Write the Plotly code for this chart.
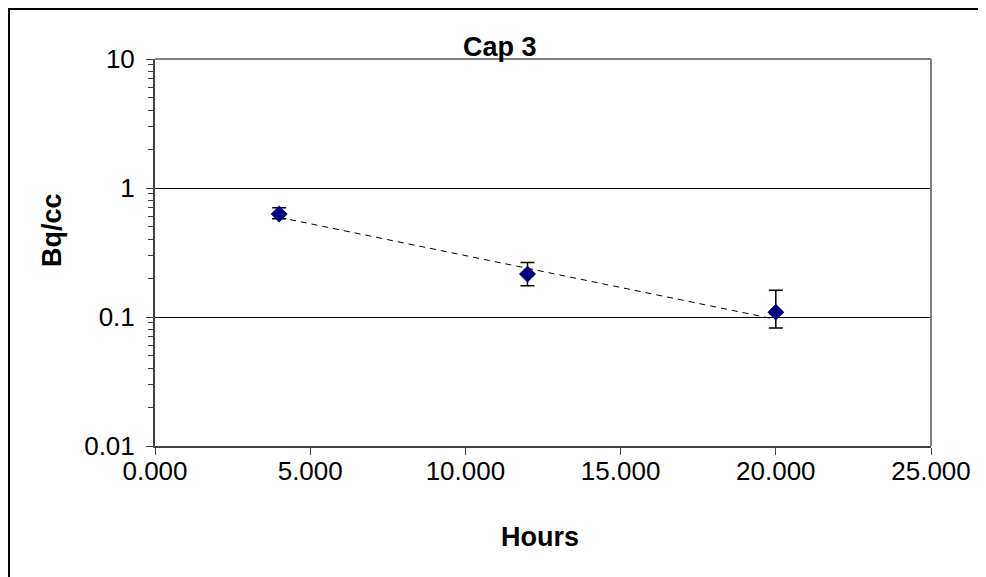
import plotly.graph_objects as go

# ---- data ----
hours = [4, 12, 20]
bq_cc = [0.628, 0.215, 0.109]
err_plus = [0.075, 0.049, 0.052]
err_minus = [0.050, 0.040, 0.027]
trend_x = [4, 20]
trend_y = [0.592, 0.096]
x_ticks = [0, 5, 10, 15, 20, 25]
x_ticktext = ["0.000", "5.000", "10.000", "15.000", "20.000", "25.000"]

# page has an 8px body margin; figure coordinates are page coordinates - 8
OFF = 8
W, H = 986 - OFF, 577 - OFF
L, R, T, B = 155 - OFF, 931 - OFF, 59 - OFF, 446 - OFF


def px(x):
    """page x pixel -> paper coordinate"""
    return (x - OFF - L) / (R - L)


def py(y):
    """page y pixel -> paper coordinate"""
    return (B - (y - OFF)) / (B - T)


FONT = "Liberation Sans, Arial, sans-serif"

fig = go.Figure()

fig.add_trace(go.Scatter(
    x=trend_x, y=trend_y, mode="lines",
    line=dict(color="black", width=1, dash="6px,5px"),
    hoverinfo="skip", showlegend=False,
))

fig.add_trace(go.Scatter(
    x=hours, y=bq_cc, mode="markers",
    marker=dict(symbol="diamond", size=13, color="#000080",
                line=dict(width=0)),
    error_y=dict(type="data", symmetric=False, array=err_plus,
                 arrayminus=err_minus, color="black", thickness=1.5, width=7),
    showlegend=False,
))

fig.update_xaxes(
    range=[0, 25], tickmode="array", tickvals=x_ticks, ticktext=x_ticktext,
    showgrid=False, zeroline=False,
    showline=True, linecolor="#404040", linewidth=2,
    ticks="outside", ticklen=7, tickcolor="#404040", tickwidth=1,
    tickfont=dict(family=FONT, size=26, color="black"),
    ticklabelstandoff=-6,
)

fig.update_yaxes(
    type="log", range=[-2, 1], dtick=1,
    showgrid=True, gridcolor="black", gridwidth=1,
    zeroline=False,
    showline=True, linecolor="#404040", linewidth=2,
    ticks="outside", ticklen=7, tickcolor="#404040", tickwidth=1,
    tickfont=dict(family=FONT, size=26, color="black"),
    ticklabelstandoff=6,
    minor=dict(ticks="outside", ticklen=5, tickcolor="#404040",
               tickwidth=1, dtick="D1", showgrid=False),
)

shapes = [
    # plot area top & right border (gray)
    dict(type="line", xref="paper", yref="paper", x0=0, x1=1, y0=1, y1=1,
         line=dict(color="#808080", width=2)),
    dict(type="line", xref="paper", yref="paper", x0=1, x1=1, y0=0, y1=1,
         line=dict(color="#808080", width=2)),
    # outer chart frame (left and top edges visible)
    dict(type="rect", xref="paper", yref="paper",
         x0=px(OFF + 1), x1=px(1010), y0=py(620), y1=py(OFF + 1),
         line=dict(color="black", width=2), fillcolor="rgba(0,0,0,0)"),
]

annotations = [
    dict(text="<b>Cap 3</b>", x=px(500), y=py(47), xref="paper", yref="paper",
         showarrow=False, font=dict(family=FONT, size=27, color="black"),
         xanchor="center", yanchor="middle"),
    dict(text="<b>Hours</b>", x=px(540), y=py(537), xref="paper", yref="paper",
         showarrow=False, font=dict(family=FONT, size=27, color="black"),
         xanchor="center", yanchor="middle"),
    dict(text="<b>Bq/cc</b>", x=px(52), y=py(230), xref="paper", yref="paper",
         showarrow=False, textangle=-90,
         font=dict(family=FONT, size=27, color="black"),
         xanchor="center", yanchor="middle"),
]

fig.update_layout(
    width=W, height=H,
    margin=dict(l=L, r=W - R, t=T, b=H - B, pad=0),
    paper_bgcolor="white", plot_bgcolor="white",
    shapes=shapes, annotations=annotations,
    showlegend=False,
)

fig.write_html("out.html")
